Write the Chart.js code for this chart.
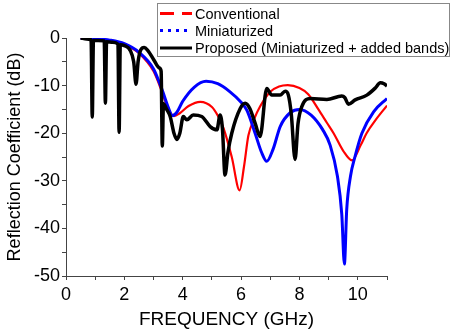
<!DOCTYPE html>
<html>
<head>
<meta charset="utf-8">
<style>
  body { margin: 0; background: #fff; }
  #wrap { width: 451px; height: 331px; }
</style>
<script src="https://cdn.jsdelivr.net/npm/chart.js@4.4.0/dist/chart.umd.min.js"></script>
</head>
<body>
<div id="wrap"><canvas id="myChart" width="451" height="331"></canvas></div>
<script>
"use strict";

// Conventional (red)
const convFreq = [0.5, 1.0, 1.5, 2.0, 2.5, 3.0, 3.3, 3.5, 3.7, 3.9, 4.2, 4.6, 5.0, 5.2, 5.4, 5.68, 5.95, 6.1, 6.25, 6.45, 6.65, 7.0, 7.3, 7.6, 8.0, 8.3, 8.65, 8.94, 9.17, 9.5, 9.8, 10.1, 10.3, 10.6, 11.0];
const convDb = [0, -0.15, -0.5, -1.3, -3.2, -7, -11.5, -14.8, -16.4, -15.8, -14.3, -13.4, -14.5, -16.3, -19, -25, -32, -27, -20.5, -17, -14.4, -11.3, -10.2, -9.9, -10.5, -11.8, -15, -17.8, -20, -23.7, -25.7, -22.5, -20, -17.3, -14.2];

// Miniaturized (blue)
const miniFreq = [0.5, 1.0, 1.5, 2.0, 2.5, 3.0, 3.3, 3.5, 3.65, 3.8, 4.0, 4.4, 4.8, 5.2, 5.6, 6.0, 6.2, 6.48, 6.7, 6.88, 7.1, 7.34, 7.7, 8.0, 8.4, 8.8, 9.05, 9.3, 9.45, 9.54, 9.62, 9.75, 9.9, 10.14, 10.54, 11.0];
const miniDb = [0, -0.15, -0.45, -1.2, -3, -6.5, -11, -14.5, -16.3, -15.6, -13.3, -10.3, -9.1, -9.6, -11.2, -13.5, -15.2, -20, -24, -25.9, -23.3, -18.6, -15.6, -15, -16.2, -19.3, -22.5, -29, -37, -47.5, -36, -29, -25, -20, -15.5, -12.7];

// Proposed (black)
const propFreq = [0.5, 0.7, 0.86, 0.9, 0.94, 1.1, 1.31, 1.35, 1.39, 1.6, 1.78, 1.82, 1.86, 2.0, 2.2, 2.32, 2.4, 2.47, 2.56, 2.68, 2.8, 3.0, 3.2, 3.26, 3.3, 3.34, 3.45, 3.57, 3.7, 3.8, 3.9, 4.02, 4.14, 4.36, 4.65, 4.94, 5.17, 5.28, 5.36, 5.45, 5.55, 5.68, 5.97, 6.14, 6.3, 6.48, 6.65, 6.88, 7.05, 7.34, 7.51, 7.62, 7.72, 7.85, 7.95, 8.08, 8.37, 8.94, 9.45, 9.55, 9.68, 9.91, 10.31, 10.6, 10.77, 10.9, 11.0];
const propDb = [0, -0.2, -0.4, -16.6, -0.5, -0.5, -0.6, -13.7, -0.8, -0.9, -1.3, -19.8, -1.4, -1.6, -2.6, -5, -9.7, -5, -2.5, -2, -2.6, -4.5, -6.3, -7, -22.7, -13.8, -15, -16.5, -20, -21.3, -20, -16.5, -17.2, -16.2, -16.5, -18.6, -19.3, -16.2, -19, -28.8, -24, -20, -14.8, -13.7, -14.8, -17.9, -20.7, -10.6, -12, -12, -11.2, -12, -16, -25.5, -18, -14.4, -12.7, -12.9, -12.2, -12.5, -13.9, -13, -12, -10.5, -9.4, -9.6, -10.1];

const seriesNames = ["Conventional", "Miniaturized", "Proposed (Miniaturized + added bands)"];

const FONT = "'Liberation Sans', Arial, sans-serif";

const pts = (xs, ys) => xs.map((x, i) => ({ x: x, y: ys[i] }));

// legend with a box, like the original figure
const boxLegend = {
  id: "boxLegend",
  afterDraw(chart) {
    const ctx = chart.ctx;
    const x0 = 157, y0 = 3, w = 292, h = 53;
    const rows = [13.5, 30.5, 48];
    const dashes = [[14, 8], [3, 5], []];
    ctx.save();
    ctx.fillStyle = "#fff";
    ctx.fillRect(x0, y0, w, h);
    ctx.strokeStyle = "#888";
    ctx.lineWidth = 1;
    ctx.strokeRect(x0 + 0.5, y0 + 0.5, w, h);
    chart.data.datasets.forEach((ds, i) => {
      ctx.beginPath();
      ctx.setLineDash(dashes[i]);
      ctx.strokeStyle = ds.borderColor;
      ctx.lineWidth = 3;
      ctx.moveTo(160, rows[i]);
      ctx.lineTo(192, rows[i]);
      ctx.stroke();
      ctx.setLineDash([]);
      ctx.fillStyle = "#000";
      ctx.font = "14.5px " + FONT;
      ctx.textBaseline = "middle";
      ctx.fillText(ds.label, 195, rows[i] + 1);
    });
    ctx.restore();
  },
};

const data = {
  datasets: [
    {
      label: seriesNames[0],
      data: pts(convFreq, convDb),
      borderColor: "#ff0000",
      borderWidth: 2.2,
      order: 2,
    },
    {
      label: seriesNames[1],
      data: pts(miniFreq, miniDb),
      borderColor: "#0000ff",
      borderWidth: 3,
      order: 1,
    },
    {
      label: seriesNames[2],
      data: pts(propFreq, propDb),
      borderColor: "#000000",
      borderWidth: 3.5,
      order: 0,
    },
  ],
};

const config = {
  type: "line",
  data: data,
  options: {
    responsive: false,
    animation: false,
    layout: { padding: { top: 38, right: 64, left: 0, bottom: 0 } },
    elements: {
      point: { radius: 0 },
      line: { cubicInterpolationMode: "monotone", fill: false },
    },
    plugins: {
      legend: { display: false },
      title: { display: false },
      tooltip: { enabled: false },
    },
    scales: {
      x: {
        type: "linear",
        min: 0,
        max: 11,
        afterFit: (s) => { s.height = 55; },
        border: { display: true, color: "#444", width: 1 },
        grid: { display: true, drawOnChartArea: false, drawTicks: true, tickLength: 4, color: "#444" },
        ticks: {
          stepSize: 1,
          autoSkip: false,
          maxRotation: 0,
          padding: 4,
          color: "#000",
          font: { family: FONT, size: 18 },
          callback: (v) => (v % 2 === 0 ? v : ""),
        },
        title: {
          display: true,
          text: "FREQUENCY (GHz)",
          color: "#000",
          font: { family: FONT, size: 19 },
          padding: { top: 0, bottom: 0 },
        },
      },
      y: {
        min: -50,
        max: 0,
        afterFit: (s) => { s.width = 66; },
        border: { display: true, color: "#444", width: 1 },
        grid: { display: true, drawOnChartArea: false, drawTicks: true, tickLength: 4, color: "#444" },
        ticks: {
          stepSize: 5,
          autoSkip: false,
          padding: 2,
          color: "#000",
          font: { family: FONT, size: 18 },
          callback: (v) => (v % 10 === 0 ? v : ""),
        },
        title: {
          display: true,
          text: "Reflection Coefficient (dB)",
          color: "#000",
          font: { family: FONT, size: 18 },
          padding: { top: 4, bottom: 0 },
        },
      },
    },
  },
  plugins: [boxLegend],
};

const myChart = new Chart(document.getElementById("myChart"), config);
</script>
</body>
</html>
